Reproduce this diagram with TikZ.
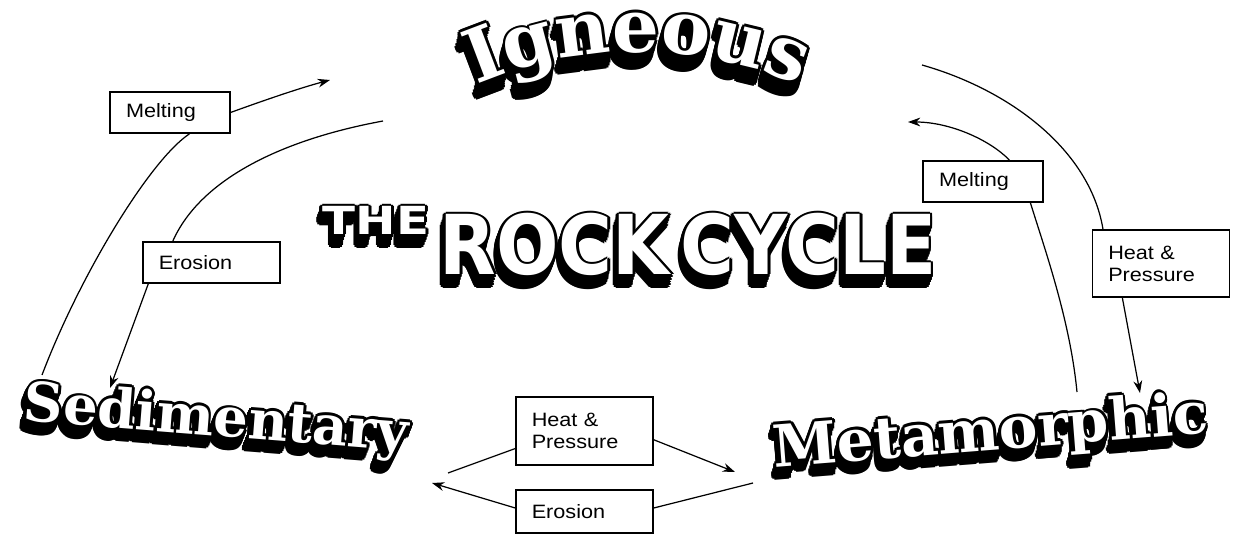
\documentclass[tikz,border=0pt]{standalone}
\usepackage{fontspec}
\usetikzlibrary{arrows.meta, decorations.text}
\newfontfamily\lblfont[FakeStretch=1.12]{Liberation Sans}
\newfontfamily\wordfont{DejaVu Serif}
\newfontfamily\titlefont{DejaVu Sans}
\newcommand{\igfont}{\wordfont\bfseries\fontsize{42}{42}\selectfont}

% white letters, black rim and drop shadow
\newcommand{\shadowword}[4]{%
  \foreach \sx/\sy in {0/0,-0.5/-1.5,-1/-3,-1.5/-4.5,-2/-6}{%
    \foreach \ox/\oy in {1.6/0,-1.6/0,0/1.6,0/-1.6,1.1/1.1,-1.1/1.1,1.1/-1.1,-1.1/-1.1}{%
      \node[#3, text=black, xshift={(\sx+\ox)*1pt}, yshift={(\sy+\oy)*1pt}] at #2 {#4};
    }
  }
  \node[#3, text=white] (#1) at #2 {#4};
}

\begin{document}
\begin{tikzpicture}[
    x=0.2mm, y=-0.2mm,
    >={Stealth[length=7pt, width=5pt]},
    box/.style={draw, line width=0.9pt, font=\lblfont\fontsize{11}{12.5}\selectfont, align=left, inner xsep=9pt, text width=60pt, minimum height=23.5pt},
    word/.style={inner sep=0pt, anchor=base, font=\wordfont\bfseries\fontsize{#1}{#1}\selectfont},
    title/.style={inner sep=0pt, anchor=base, font=\titlefont\bfseries\fontsize{#1}{#1}\selectfont},
    link/.style={line width=0.7pt},
    arrow/.style={->, line width=0.7pt},
]
\useasboundingbox (0,0) rectangle (1235,535);

% Rock names
\foreach \sx/\sy in {0/0,-0.5/-2,-1/-4,-1.5/-6,-2/-8}{
  \foreach \ox/\oy in {1.6/0,-1.6/0,0/1.6,0/-1.6,1.1/1.1,-1.1/1.1,1.1/-1.1,-1.1/-1.1}{
    \path[decorate, decoration={text along path, text={|\igfont|Igneous}, text align=center, text color=black},
      xshift={(\sx+\ox)*1pt}, yshift={(\sy+\oy)*1pt}]
      (638,462) ++(238:410) arc[start angle=238, end angle=302, radius=410];
  }
}
\path[decorate, decoration={text along path, text={|\igfont|Igneous}, text align=center, text color=white}]
  (638,462) ++(238:410) arc[start angle=238, end angle=302, radius=410];

\shadowword{sed}{(215,436)}{word=31, rotate=-4.5}{Sedimentary}
\shadowword{met}{(992,450)}{word=33, rotate=4.5}{Metamorphic}

% Title
\shadowword{the}{(376,235)}{title=22}{\scalebox{1.25}[1]{THE}}
\shadowword{rock}{(688,275)}{title=47}{\scalebox{0.89}[1]{ROCK\kern7pt CYCLE}}

% Process boxes
\node[box, text width=50pt] (melt1) at (170,112.5) {Melting};
\node[box] (ero1) at (211.5,262.5) {Erosion};
\node[box, text width=50pt] (melt2) at (983,181.5) {Melting};
\node[box, minimum height=38pt] (hp1) at (1161,263.5) {Heat \&\\Pressure};
\node[box, minimum height=38.5pt] (hp2) at (584.5,431) {Heat \&\\Pressure};
\node[box, minimum height=24.5pt] (ero2) at (584.5,511.5) {Erosion};

% Free ends near the rock names
\coordinate (sed-up) at (42,375);
\coordinate (ign-in1) at (330,80);
\coordinate (ign-out1) at (383,121);
\coordinate (sed-in1) at (110,388);
\coordinate (ign-out2) at (922,65);
\coordinate (met-in1) at (1140,393);
\coordinate (ign-in2) at (908,122);
\coordinate (met-out1) at (1077,392);
\coordinate (sed-out) at (448,473);
\coordinate (met-in2) at (735,472);
\coordinate (met-out2) at (753,483);
\coordinate (sed-in2) at (432,483);

% Left side
\draw[link] (sed-up) .. controls (80,275) and (150,160) .. ([xshift=11pt]melt1.south);
\draw[arrow] (melt1.east) .. controls (265,100) and (300,88) .. (ign-in1);
\draw[link] (ign-out1) .. controls (280,140) and (200,180) .. ([xshift=-22pt]ero1.north);
\draw[arrow] ([xshift=-36pt]ero1.south) -- (sed-in1);

% Right side
\draw[link] (ign-out2) .. controls (1010,90) and (1090,150) .. ([xshift=-33pt]hp1.north);
\draw[arrow] ([xshift=-22pt]hp1.south) -- (met-in1);
\draw[arrow] ([xshift=15pt]melt2.north) .. controls (990,140) and (950,122) .. (ign-in2);
\draw[link] ([xshift=27pt]melt2.south) .. controls (1045,250) and (1070,320) .. (met-out1);

% Bottom
\draw[link] (sed-out) -- ([yshift=-10pt]hp2.west);
\draw[arrow] ([yshift=-5pt]hp2.east) -- (met-in2);
\draw[link] (met-out2) -- ([yshift=2pt]ero2.east);
\draw[arrow] ([yshift=2pt]ero2.west) -- (sed-in2);

\end{tikzpicture}
\end{document}
